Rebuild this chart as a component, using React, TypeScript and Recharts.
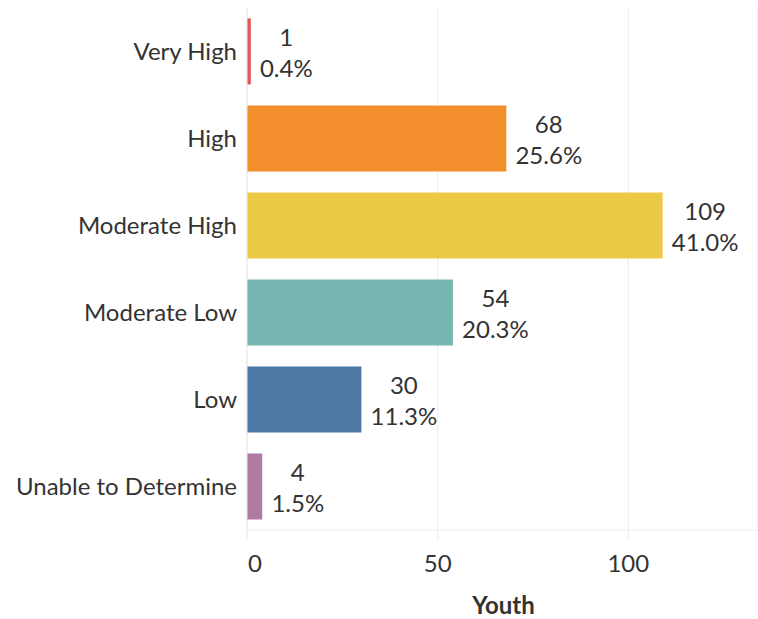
import React from "react";
import { BarChart, Bar, XAxis, YAxis, CartesianGrid, Cell, LabelList } from "recharts";

const categories = ["Very High", "High", "Moderate High", "Moderate Low", "Low", "Unable to Determine"];
const youth = [1, 68, 109, 54, 30, 4];
const percents = ["0.4%", "25.6%", "41.0%", "20.3%", "11.3%", "1.5%"];
const colors = ["#e15759", "#f28e2b", "#edc948", "#76b7b2", "#4e79a7", "#b07aa1"];
const xTicks = [0, 50, 100];

const data = categories.map((c, i) => ({ name: c, youth: youth[i], pct: percents[i] }));

const FONT = "Lato, 'Open Sans', sans-serif";
const TEXT = "#333333";
const GRID = "#ebebeb";
const FS = 24;

// rough width of a label in Lato at FS
function textWidth(s: string) {
  let w = 0;
  for (const ch of s) {
    if (ch === ".") w += 0.25;
    else if (ch === "%") w += 0.8;
    else w += 0.58;
  }
  return w * FS;
}

function BarLabel(props: any) {
  const { x, y, width, height, index } = props;
  const start = x + width + 9;
  const cy = y + height / 2;
  const d = data[index];
  const mid = start + textWidth(d.pct) / 2;
  return (
    <text fontFamily={FONT} fontSize={FS} fill={TEXT} textAnchor="middle" dominantBaseline="central">
      <tspan x={mid} y={cy - 15}>{d.youth}</tspan>
      <tspan x={mid} y={cy + 16}>{d.pct}</tspan>
    </text>
  );
}

function XTick(props: any) {
  const { x, y, payload } = props;
  const first = payload.value === 0;
  return (
    <text
      x={first ? x + 8 : x}
      y={y + 21}
      textAnchor="middle"
      dominantBaseline="central"
      fontFamily={FONT}
      fontSize={FS}
      fill={TEXT}
    >
      {payload.value}
    </text>
  );
}

function AxisTitle(props: any) {
  const { viewBox } = props;
  return (
    <text
      x={viewBox.x + viewBox.width / 2 + 1}
      y={604}
      textAnchor="middle"
      dominantBaseline="central"
      fontFamily={FONT}
      fontSize={FS}
      fontWeight={700}
      fill={TEXT}
    >
      Youth
    </text>
  );
}

export default function App() {
  return (
    <div style={{ position: "absolute", left: 0, top: 0, background: "#fff" }}>
      <BarChart
        width={758}
        height={619}
        data={data}
        layout="vertical"
        margin={{ top: 8, right: 0, left: 0, bottom: 0 }}
        barCategoryGap="12%"
      >
        <CartesianGrid horizontal={false} vertical stroke={GRID} />
        <XAxis
          type="number"
          domain={[0, 134]}
          ticks={xTicks}
          height={89}
          tickSize={9}
          tickLine={{ stroke: GRID }}
          axisLine={{ stroke: GRID }}
          tick={<XTick />}
          label={<AxisTitle />}
        />
        <YAxis
          type="category"
          dataKey="name"
          width={247}
          tickLine={false}
          tickMargin={4}
          axisLine={{ stroke: GRID }}
          tick={{ fontFamily: FONT, fontSize: FS, fill: TEXT }}
        />
        <Bar dataKey="youth" isAnimationActive={false}>
          {data.map((d, i) => (
            <Cell key={d.name} fill={colors[i]} />
          ))}
          <LabelList dataKey="youth" content={<BarLabel />} />
        </Bar>
      </BarChart>
    </div>
  );
}
